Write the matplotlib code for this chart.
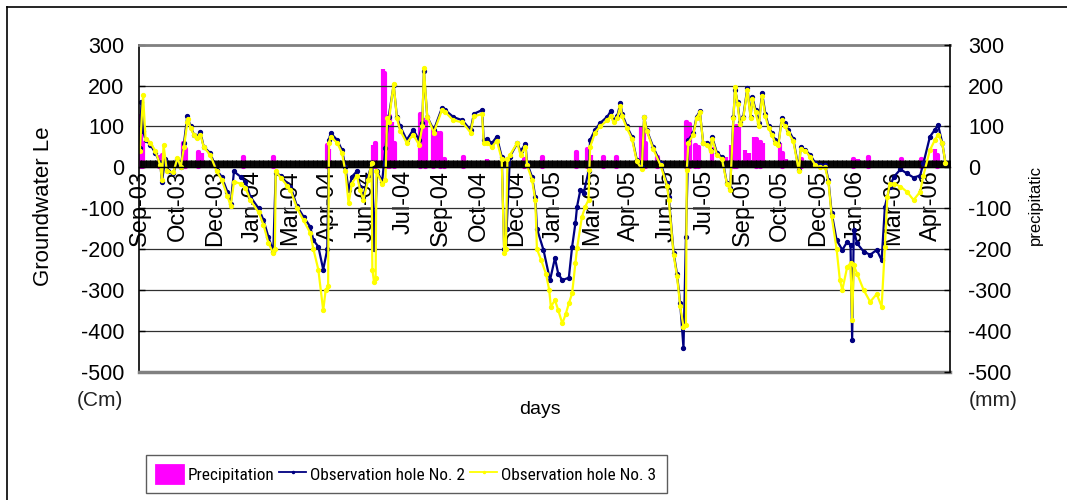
import matplotlib
matplotlib.use("Agg")
import matplotlib.pyplot as plt
from matplotlib.ticker import MultipleLocator, FixedLocator
from matplotlib.lines import Line2D
import matplotlib.font_manager as fm

plt.rcParams['font.family'] = ['Liberation Sans', 'DejaVu Sans']
plt.rcParams['axes.unicode_minus'] = False

# ---------------- data (day index from 1 Sep 2003) ----------------
n_days = 990
tick_labels = ["Sep-03", "Oct-03", "Dec-03", "Jan-04", "Mar-04", "Apr-04", "Jun-04",
               "Jul-04", "Sep-04", "Oct-04", "Dec-04", "Jan-05", "Mar-05", "Apr-05",
               "Jun-05", "Jul-05", "Sep-05", "Oct-05", "Dec-05", "Jan-06", "Mar-06",
               "Apr-06"]
label_step = 46

obs2_days = [0, 2, 4, 7, 13, 19, 25, 27, 31, 35, 41, 46, 50, 54, 58, 62, 66, 70, 74, 78,
             86, 94, 100, 107, 111, 115, 123, 129, 135, 145, 151, 157, 163, 166, 172, 180,
             184, 192, 200, 208, 212, 218, 224, 229, 231, 233, 241, 247, 251, 255, 259,
             265, 269, 273, 279, 284, 286, 290, 296, 300, 304, 310, 314, 318, 326, 334,
             341, 345, 347, 351, 359, 369, 373, 383, 394, 404, 408, 418, 420, 424, 430,
             436, 442, 445, 448, 452, 461, 465, 471, 473, 479, 483, 485, 493, 501, 507,
             511, 516, 524, 528, 532, 534, 538, 542, 548, 550, 556, 562, 571, 575, 579,
             583, 587, 589, 595, 601, 607, 613, 616, 619, 627, 636, 644, 646, 652, 656,
             660, 664, 667, 670, 676, 680, 684, 688, 693, 697, 699, 705, 711, 717, 721,
             725, 727, 730, 733, 737, 742, 746, 748, 752, 756, 760, 764, 768, 772, 776,
             780, 784, 788, 792, 798, 805, 807, 813, 819, 825, 831, 837, 841, 845, 851,
             858, 864, 868, 870, 872, 876, 884, 892, 900, 906, 910, 916, 921, 929, 937,
             945, 953, 957, 965, 971, 975, 980, 984]
obs2_vals = [47, 160, 90, 67, 55, 35, 10, -35, 20, -10, -15, 20, 0, 60, 125, 100, 80, 75,
             87, 50, 35, -7, -23, -60, -90, -10, -23, -35, -72, -100, -129, -170, -206,
             -14, -20, -40, -47, -95, -121, -145, -178, -194, -250, -200, 67, 84, 67, 42,
             1, -56, -23, -10, -47, -72, -20, 10, -200, -10, -35, 47, 124, 201, 124, 100,
             67, 92, 67, 108, 235, 124, 91, 145, 140, 123, 115, 91, 131, 140, 67, 70, 59,
             75, 26, -200, -150, 26, 59, 40, 57, 10, -23, -72, -150, -202, -276, -222,
             -260, -276, -270, -194, -137, -96, -56, -64, -10, 67, 92, 108, 124, 137, 116,
             125, 157, 131, 100, 75, 18, 1, 124, 92, 50, 10, -39, -72, -210, -260, -333,
             -442, -170, 67, 84, 124, 137, 60, 59, 42, 75, 34, 26, -39, -51, 124, 190, 160,
             110, 124, 194, 124, 173, 140, 108, 182, 131, 100, 84, 67, 59, 120, 108, 92,
             70, -7, 50, 42, 30, 10, 5, 5, -31, -112, -178, -202, -182, -190, -422, -153,
             -186, -206, -214, -202, -227, -96, -47, -23, -5, -15, -25, -20, 10, 75, 92,
             103, 60, 10]

obs3_days = [0, 4, 7, 13, 19, 25, 27, 29, 33, 41, 46, 50, 54, 58, 59, 62, 66, 70, 74, 78,
             86, 94, 100, 107, 111, 115, 123, 129, 135, 145, 151, 157, 163, 165, 166, 172,
             180, 184, 192, 200, 208, 212, 218, 224, 227, 230, 231, 233, 241, 247, 251,
             255, 259, 265, 269, 273, 279, 283, 284, 286, 288, 289, 296, 300, 302, 304,
             310, 314, 318, 326, 334, 341, 345, 347, 351, 359, 369, 373, 383, 394, 404,
             408, 418, 420, 424, 430, 436, 442, 445, 447, 449, 452, 461, 465, 471, 473,
             479, 483, 485, 490, 496, 500, 502, 507, 511, 516, 520, 524, 528, 532, 534,
             540, 544, 548, 549, 550, 556, 562, 571, 575, 579, 583, 587, 589, 595, 601,
             607, 613, 616, 619, 627, 636, 644, 646, 652, 656, 660, 664, 667, 668, 670,
             676, 680, 684, 688, 693, 697, 699, 705, 711, 717, 721, 725, 727, 730, 733,
             737, 742, 746, 748, 752, 756, 760, 764, 768, 772, 776, 780, 784, 788, 792,
             798, 805, 807, 813, 819, 825, 831, 837, 841, 845, 851, 855, 858, 864, 868,
             870, 872, 876, 884, 892, 900, 906, 910, 913, 916, 921, 929, 937, 945, 953,
             957, 965, 971, 975, 980, 984]
obs3_vals = [40, 176, 70, 60, 40, 5, -30, 55, -10, -12, 23, 1, 50, 110, 119, 95, 80, 72,
             80, 50, 30, -10, -30, -70, -95, -35, -40, -50, -80, -110, -140, -185, -210,
             -200, -10, -25, -45, -55, -100, -130, -160, -200, -250, -350, -300, -290, 60,
             75, 60, 35, -10, -88, -40, -20, -55, -80, -30, 10, -250, -280, -270, -10,
             -40, -30, 120, 110, 205, 120, 90, 60, 80, 55, 100, 242, 124, 85, 140, 135,
             115, 110, 85, 125, 130, 60, 60, 50, 65, 20, -210, -200, 20, 30, 60, 30, 50, 5,
             -30, -80, -200, -226, -260, -300, -341, -325, -349, -382, -360, -333, -308,
             -234, -198, -121, -96, -80, -7, 50, 85, 100, 115, 125, 110, 120, 150, 125, 95,
             70, 15, -5, 124, 90, 45, 5, -45, -80, -215, -265, -340, -390, -385, -7, 60,
             80, 120, 135, 60, 55, 40, 70, 30, 20, -40, -55, 120, 197, 155, 105, 120, 190,
             120, 168, 135, 100, 175, 125, 95, 80, 60, 55, 115, 100, 85, 65, -10, 45, 40,
             25, 5, 0, 0, -35, -120, -200, -276, -300, -243, -235, -373, -240, -260, -300,
             -329, -310, -341, -194, -72, -40, -40, -47, -60, -80, -60, -20, 42, 67, 80, 60,
             10]

rain_days = [1, 3, 24, 28, 53, 56, 72, 76, 127, 163, 229, 231, 285, 288, 297, 299, 301,
             305, 308, 311, 343, 346, 349, 359, 363, 367, 372, 395, 424, 445, 470, 492,
             533, 547, 551, 566, 582, 612, 615, 618, 632, 668, 671, 679, 682, 699, 716,
             722, 726, 729, 732, 739, 744, 750, 753, 758, 761, 782, 785, 789, 808, 872,
             877, 890, 930, 955, 971, 974]
rain_vals = [125, 60, 25, 30, 60, 45, 38, 35, 25, 25, 55, 45, 55, 60, 240, 230, 120, 125,
             110, 60, 130, 120, 110, 95, 90, 85, 20, 25, 20, 20, 20, 25, 38, 46, 30, 25,
             25, 100, 95, 60, 25, 110, 105, 55, 50, 50, 25, 55, 95, 100, 100, 42, 35, 75,
             70, 63, 60, 60, 35, 20, 20, 20, 20, 25, 20, 20, 46, 30]

# ---------------- figure ----------------
W, H = 1067, 500
fig = plt.figure(figsize=(W / 100, H / 100), dpi=100)
fig.patch.set_facecolor("white")
x0, x1, y0, y1 = 139.4, 950, 44.7, 371.7
ax = fig.add_axes([x0 / W, 1 - y1 / H, (x1 - x0) / W, (y1 - y0) / H])

MAG = "#FF00FF"
NAVY = "#000080"
YEL = "#FFFF00"

bars = ax.bar(rain_days, rain_vals, width=0.8, color=MAG, edgecolor=MAG,
              linewidth=3.0, joinstyle="round", zorder=1, label="Precipitation")
l2, = ax.plot(obs2_days, obs2_vals, color=NAVY, lw=1.6, marker="o", ms=2.8,
              mec=NAVY, mfc=NAVY, zorder=2.2, label="Observation hole No. 2")
l3, = ax.plot(obs3_days, obs3_vals, color=YEL, lw=1.6, marker="o", ms=2.8,
              mec=YEL, mfc=YEL, zorder=2.3, label="Observation hole No. 3")

ax.set_xlim(-0.5, n_days - 0.5)
ax.set_ylim(-500, 300)
ax.yaxis.set_major_locator(MultipleLocator(100))
ax.grid(axis="y", color="#303030", lw=0.9)
ax.set_axisbelow("line")

# category axis at y = 0 with a tick for every day
ax.spines["bottom"].set_position(("data", 0))
ax.spines["bottom"].set_color("black")
ax.spines["bottom"].set_linewidth(1.0)
ax.spines["top"].set_color("#808080")
ax.spines["top"].set_linewidth(2.0)
ax.spines["left"].set_color("black")
ax.spines["left"].set_linewidth(1.2)
ax.spines["right"].set_visible(False)
ax.axhline(-500, color="#808080", lw=2.5, clip_on=False, zorder=5)

tick_pos = [i * label_step for i in range(len(tick_labels))]
ax.xaxis.set_major_locator(FixedLocator(tick_pos))
ax.set_xticklabels(tick_labels, rotation=90, fontsize=17)
ax.xaxis.set_minor_locator(MultipleLocator(1))
ax.tick_params(axis="x", which="both", direction="in", length=5.2, width=0.7,
               color="black", pad=2)
ax.tick_params(axis="y", direction="in", length=4, width=1, labelsize=15.5, pad=11)
for t in ax.get_xticklabels():
    t.set_va("top")

ax2 = ax.twinx()
ax2.set_ylim(-500, 300)
ax2.yaxis.set_major_locator(MultipleLocator(100))
ax2.tick_params(axis="y", direction="in", length=4, width=1, labelsize=15.5, pad=13)
for s in ("top", "bottom", "left"):
    ax2.spines[s].set_visible(False)
ax2.spines["right"].set_color("black")
ax2.spines["right"].set_linewidth(1.2)

# texts
fig.text(44 / W, 1 - 206 / H, "Groundwater Le", rotation=90, ha="center", va="center",
         fontsize=16)
fig.text(1035 / W, 1 - 205 / H, "precipitatic", rotation=90, ha="center", va="center",
         fontsize=12)
fig.text(100 / W, 1 - 401 / H, "(Cm)", ha="center", va="center", fontsize=15,
         color="#222222")
fig.text(993 / W, 1 - 401 / H, "(mm)", ha="center", va="center", fontsize=15,
         color="#222222")
fig.text(540 / W, 1 - 410 / H, "days", ha="center", va="center", fontsize=14)

# legend
names = {f.name for f in fm.fontManager.ttflist}
leg_font = dict(family="Liberation Sans", size=11.0)
for cand, sz in (("Liberation Sans Narrow", 12.6), ("Roboto Condensed", 12.4),
                 ("Open Sans Condensed", 12.0)):
    if cand in names:
        leg_font = dict(family=cand, size=sz)
        break
h_rain = plt.Rectangle((0, 0), 1, 1, facecolor=MAG, edgecolor=MAG, lw=2,
                       joinstyle="round")
h2 = Line2D([], [], color=NAVY, lw=1.3, marker="o", ms=1.5)
h3 = Line2D([], [], color=YEL, lw=1.3, marker="o", ms=1.5)
leg = fig.legend([h_rain, h2, h3],
                 ["Precipitation", "Observation hole No. 2", "Observation hole No. 3"],
                 loc="center", bbox_to_anchor=(406.5 / W, 1 - 474 / H), ncol=3,
                 frameon=True, fancybox=False, edgecolor="#333333", prop=leg_font,
                 handlelength=1.55, handleheight=1.2, handletextpad=0.25,
                 columnspacing=0.3, borderpad=0.6, borderaxespad=0)
leg.get_frame().set_linewidth(1.0)

# outer chart border (top and left)
fig.add_artist(Line2D([7 / W, 1.0], [1 - 7 / H, 1 - 7 / H], color="black", lw=1.2))
fig.add_artist(Line2D([7 / W, 7 / W], [1 - 7 / H, 0.0], color="black", lw=1.2))

fig.savefig("out.png", dpi=100, facecolor="white")
